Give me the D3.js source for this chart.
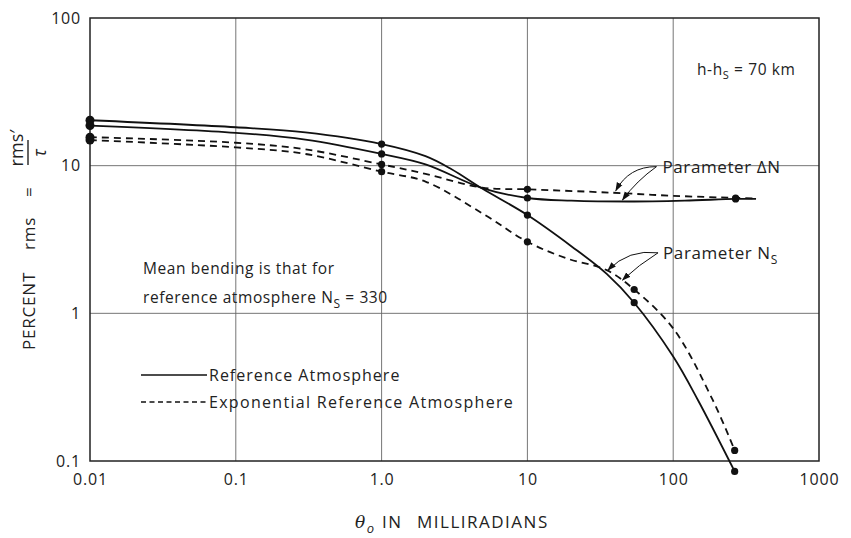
<!DOCTYPE html>
<html><head><meta charset="utf-8">
<script src="https://cdn.jsdelivr.net/npm/d3@7"></script>
<style>
body{margin:0;background:#fff;}
text{font-family:"Open Sans","Liberation Sans",sans-serif;fill:#222;}
</style></head>
<body><svg id="c" width="851" height="538"></svg>
<script>
// ---- data ----
const xTicks = [0.01, 0.1, 1, 10, 100, 1000];
const xTickLabels = ["0.01", "0.1", "1.0", "10", "100", "1000"];
const yTicks = [0.1, 1, 10, 100];
const yTickLabels = ["0.1", "1", "10", "100"];

// Reference atmosphere (solid), parameter Ns
const refNsX = [0.01, 0.1, 0.3, 1, 2, 3, 4.9, 10, 20, 35, 54, 100, 148, 264];
const refNsY = [20.3, 18.2, 16.8, 14.0, 11.6, 9.5, 7.0, 4.63, 2.85, 1.85, 1.18, 0.51, 0.258, 0.085];
// Reference atmosphere (solid), parameter ΔN
const refDnX = [0.01, 0.1, 0.3, 1, 2, 4.9, 10, 20, 50, 120, 268, 370];
const refDnY = [18.7, 16.7, 15.0, 12.0, 10.2, 7.05, 6.04, 5.8, 5.72, 5.8, 5.95, 5.95];
// Exponential reference atmosphere (dashed), parameter ΔN
const expDnX = [0.01, 0.1, 0.3, 1, 2, 4.9, 10, 38, 100, 268, 370];
const expDnY = [15.6, 14.3, 12.9, 10.2, 8.8, 7.1, 6.92, 6.56, 6.25, 6.05, 6.0];
// Exponential reference atmosphere (dashed), parameter Ns
const expNsX = [0.01, 0.1, 0.3, 1, 2, 5, 10, 18.5, 35, 54, 100, 187, 264];
const expNsY = [14.9, 13.3, 12.0, 9.1, 7.8, 4.7, 3.05, 2.36, 1.96, 1.45, 0.79, 0.258, 0.118];

// marked data points
const refNsMarkX = [0.01, 1, 10, 54, 264];
const refNsMarkY = [20.3, 14.0, 4.63, 1.18, 0.085];
const refDnMarkX = [0.01, 1, 10, 268];
const refDnMarkY = [18.7, 12.0, 6.04, 5.95];
const expDnMarkX = [0.01, 1, 10, 268];
const expDnMarkY = [15.6, 10.2, 6.92, 6.02];
const expNsMarkX = [0.01, 1, 10, 54, 264];
const expNsMarkY = [14.9, 9.1, 3.05, 1.45, 0.118];

// annotation arrow anchors (data space): [startX, startY, endX, endY]
const arrowDn = [[76.8, 9.85, 40.4, 6.77], [76.8, 9.85, 44.9, 5.86]];
const arrowNs = [[78.7, 2.57, 35.7, 1.96], [78.7, 2.57, 44.9, 1.68]];

// ---- drawing ----
const svg = d3.select("#c");
const W = 851, H = 538;
const m = {l: 90, r: 32, t: 18, b: 77};
const x = d3.scaleLog().domain([0.01, 1000]).range([m.l, W - m.r]);
const y = d3.scaleLog().domain([0.1, 100]).range([H - m.b, m.t]);

// grid
const g = svg.append("g");
g.selectAll(".vg").data(xTicks.slice(1, -1)).join("line")
  .attr("x1", d => x(d)).attr("x2", d => x(d)).attr("y1", m.t).attr("y2", H - m.b)
  .attr("stroke", "#666").attr("stroke-width", 0.9);
g.selectAll(".hg").data(yTicks.slice(1, -1)).join("line")
  .attr("y1", d => y(d)).attr("y2", d => y(d)).attr("x1", m.l).attr("x2", W - m.r)
  .attr("stroke", "#666").attr("stroke-width", 0.9);

// frame
svg.append("rect").attr("x", m.l).attr("y", m.t).attr("width", W - m.l - m.r).attr("height", H - m.t - m.b)
  .attr("fill", "none").attr("stroke", "#222").attr("stroke-width", 1.5);

// axes (labels via d3 axes)
const xAxis = d3.axisBottom(x).tickValues(xTicks).tickFormat((d, i) => xTickLabels[i]).tickSize(0).tickPadding(13);
const xa = svg.append("g").attr("transform", `translate(0,${H - m.b})`).call(xAxis);
xa.select(".domain").remove();
xa.selectAll("text").attr("font-size", 16).attr("letter-spacing", 0.8)
  .attr("font-family", "Open Sans, sans-serif").attr("fill", "#222");

const yAxis = d3.axisLeft(y).tickValues(yTicks).tickFormat((d, i) => yTickLabels[i]).tickSize(0).tickPadding(9);
const ya = svg.append("g").attr("transform", `translate(${m.l},0)`).call(yAxis);
ya.select(".domain").remove();
ya.selectAll("text").attr("font-size", 16).attr("letter-spacing", 0.8)
  .attr("font-family", "Open Sans, sans-serif").attr("fill", "#222");

// lines
const line = d3.line().x(d => x(d[0])).y(d => y(d[1])).curve(d3.curveCatmullRom.alpha(0.5));
const zip = (a, b) => a.map((v, i) => [v, b[i]]);
const series = [
  {xs: refNsX, ys: refNsY, dash: null},
  {xs: refDnX, ys: refDnY, dash: null},
  {xs: expDnX, ys: expDnY, dash: "7,5"},
  {xs: expNsX, ys: expNsY, dash: "7,5"}
];
series.forEach(s => {
  svg.append("path").attr("d", line(zip(s.xs, s.ys))).attr("fill", "none")
    .attr("stroke", "#111").attr("stroke-width", 1.8)
    .attr("stroke-dasharray", s.dash);
});
const marks = [
  [refNsMarkX, refNsMarkY], [refDnMarkX, refDnMarkY], [expDnMarkX, expDnMarkY], [expNsMarkX, expNsMarkY]
];
marks.forEach(([xs, ys]) => {
  svg.selectAll(null).data(zip(xs, ys)).join("circle")
    .attr("cx", d => x(d[0])).attr("cy", d => y(d[1]))
    .attr("r", d => d[0] === 0.01 ? 4.5 : 3.6).attr("fill", "#111");
});

// arrows
const defs = svg.append("defs");
defs.append("marker").attr("id", "ah").attr("viewBox", "0 0 10 10").attr("refX", 9).attr("refY", 5)
  .attr("markerWidth", 9).attr("markerHeight", 9).attr("orient", "auto-start-reverse")
  .append("path").attr("d", "M0,1.5 L10,5 L0,8.5 Z").attr("fill", "#111");
function arrow(a, bend) {
  const x1 = x(a[0]), y1 = y(a[1]), x2 = x(a[2]), y2 = y(a[3]);
  const mx = (x1 + x2) / 2, my = (y1 + y2) / 2;
  const dx = x2 - x1, dy = y2 - y1, L = Math.hypot(dx, dy);
  const cx = mx + (-dy / L) * bend * L, cy = my + (dx / L) * bend * L;
  svg.append("path").attr("d", `M${x1},${y1} Q${cx},${cy} ${x2},${y2}`)
    .attr("fill", "none").attr("stroke", "#111").attr("stroke-width", 1)
    .attr("marker-end", "url(#ah)");
}
arrow(arrowDn[0], 0.3); arrow(arrowDn[1], 0.08);
arrow(arrowNs[0], 0.25); arrow(arrowNs[1], 0.05);

// annotation text
function txt(xp, yp, str, size) {
  return svg.append("text").attr("x", xp).attr("y", yp).attr("font-size", size || 15)
    .attr("letter-spacing", 0.6).text(str);
}
const t1 = txt(x(arrowDn[0][0]) + 6, y(arrowDn[0][1]) + 6, "", 17);
t1.append("tspan").text("Parameter  \u0394N");
const t2 = txt(x(arrowNs[0][0]) + 5, y(arrowNs[0][1]) + 6, "", 17);
t2.append("tspan").text("Parameter  N");
t2.append("tspan").attr("font-size", 12).attr("dy", 5).text("S");

const t3 = txt(697, 75, "", 15.5);
t3.append("tspan").text("h-h");
t3.append("tspan").attr("font-size", 11).attr("dy", 4).text("S");
t3.append("tspan").attr("dy", -4).text(" = 70 km");

txt(143, 274, "Mean bending is that for", 15.5);
const t4 = txt(143, 303, "", 15.5);
t4.append("tspan").text("reference atmosphere N");
t4.append("tspan").attr("font-size", 12).attr("dy", 5).text("S");
t4.append("tspan").attr("dy", -5).text(" = 330");

// legend
svg.append("line").attr("x1", 141).attr("x2", 207).attr("y1", 375).attr("y2", 375)
  .attr("stroke", "#111").attr("stroke-width", 1.6);
svg.append("line").attr("x1", 141).attr("x2", 207).attr("y1", 402).attr("y2", 402)
  .attr("stroke", "#111").attr("stroke-width", 1.6).attr("stroke-dasharray", "5,3.5");
txt(209, 381, "Reference  Atmosphere", 16).attr("letter-spacing", 1.0);
txt(209, 408, "Exponential  Reference  Atmosphere", 16).attr("letter-spacing", 1.3);

// axis titles
const xt = svg.append("text").attr("x", 355).attr("y", 528).attr("font-size", 17).attr("letter-spacing", 1.5);
xt.append("tspan").attr("font-style", "italic").attr("font-family", "DejaVu Serif, serif").text("\u03B8");
xt.append("tspan").attr("font-style", "italic").attr("font-size", 13).attr("dy", 5).text("o");
xt.append("tspan").attr("dy", -5).attr("x", 382).text("IN");
xt.append("tspan").attr("x", 417).text("MILLIRADIANS");

const yt = svg.append("g").attr("transform", "translate(35,240) rotate(-90)");
yt.append("text").attr("x", -110).attr("y", 0).attr("font-size", 17).attr("letter-spacing", 0.8).text("PERCENT");
yt.append("text").attr("x", -10).attr("y", 0).attr("font-size", 17).attr("letter-spacing", 0.8).text("rms");
yt.append("text").attr("x", 43).attr("y", 0).attr("font-size", 17).text("=");
yt.append("text").attr("x", 92).attr("y", -12).attr("text-anchor", "middle").attr("font-size", 18).text("rms\u2032");
yt.append("line").attr("x1", 75).attr("x2", 100).attr("y1", -7).attr("y2", -7).attr("stroke", "#222").attr("stroke-width", 1.4);
yt.append("text").attr("x", 87).attr("y", 11).attr("text-anchor", "middle").attr("font-size", 18)
  .attr("font-style", "italic").attr("font-family", "DejaVu Serif, serif").text("\u03C4");
</script></body></html>
